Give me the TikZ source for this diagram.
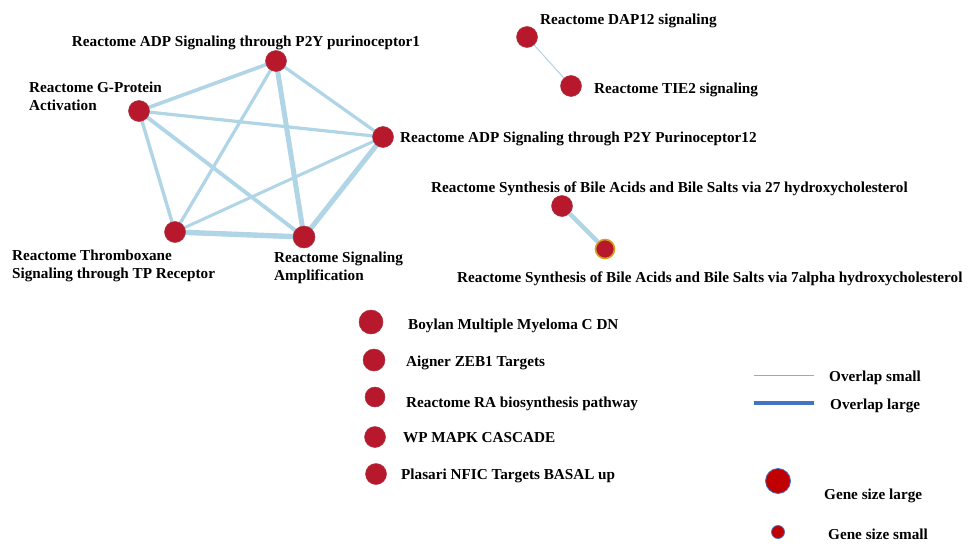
\documentclass[tikz,border=0pt]{standalone}
\usepackage{fontspec}
\setmainfont{Liberation Serif}
\definecolor{nodered}{RGB}{184,24,44}
\definecolor{edgeblue}{RGB}{176,213,230}
\definecolor{legthin}{RGB}{142,169,219}
\definecolor{legthick}{RGB}{68,114,196}
\definecolor{legred}{RGB}{192,0,0}
\definecolor{ringgold}{RGB}{214,160,30}
\tikzset{
  gene/.style={circle, fill=nodered, draw=nodered!70!gray, line width=0.5pt, minimum size=21pt, inner sep=0pt},
  lbl/.style={font=\bfseries\fontsize{15.2}{18}\selectfont, inner sep=0pt, text=black},
  lblL/.style={lbl, anchor=base west, align=left},
  ov/.style={draw=edgeblue, line width=#1},
  legdot/.style={circle, fill=legred, draw=legthick, line width=0.8pt, inner sep=0pt},
}
\begin{document}
\begin{tikzpicture}[x=1pt,y=-1pt]
\useasboundingbox (0,0) rectangle (973,543);
\fill[white] (0,0) rectangle (973,543);

% five-node cluster
\coordinate (p1c) at (276,61);
\coordinate (gpc) at (139,111);
\coordinate (p12c) at (383,137);
\coordinate (txc) at (175,232);
\coordinate (amc) at (304,237);

\draw[ov=3.6pt] (gpc) -- (p1c);
\draw[ov=3.2pt] (gpc) -- (p12c);
\draw[ov=3.4pt] (gpc) -- (txc);
\draw[ov=3.8pt] (gpc) -- (amc);
\draw[ov=3.2pt] (p1c) -- (p12c);
\draw[ov=3.2pt] (p1c) -- (txc);
\draw[ov=5pt] (p1c) -- (amc);
\draw[ov=3pt] (p12c) -- (txc);
\draw[ov=5pt] (p12c) -- (amc);
\draw[ov=5.4pt] (txc) -- (amc);

\node[gene] (p1) at (p1c) {};
\node[gene] (gp) at (gpc) {};
\node[gene] (p12) at (p12c) {};
\node[gene] (tx) at (txc) {};
\node[gene, minimum size=22pt] (am) at (amc) {};

\node[lbl, anchor=base] (p1t) at (246,47) {Reactome ADP Signaling through P2Y purinoceptor1};
\node[lblL] (gpt) at (29,110) {Reactome G-Protein\\Activation};
\node[lblL] (p12t) at (400,142) {Reactome ADP Signaling through P2Y Purinoceptor12};
\node[lblL] (txt) at (12,278) {Reactome Thromboxane\\Signaling through TP Receptor};
\node[lblL] (amt) at (274,280) {Reactome Signaling\\Amplification};

% DAP12 / TIE2 pair
\node[gene] (dap) at (527,37) {};
\node[gene] (tie) at (571,86) {};
\draw[draw=edgeblue, line width=1pt] (dap) -- (tie);
\node[lblL] (dapt) at (540,25) {Reactome DAP12 signaling};
\node[lblL] (tiet) at (594,93) {Reactome TIE2 signaling};

% bile acid pair
\node[gene] (b27) at (562,206) {};
\node[gene, draw=ringgold, line width=1.6pt, minimum size=19pt] (b7) at (605,249) {};
\draw[ov=4.4pt] (b27) -- (b7);
\node[lblL] (b27t) at (431,192) {Reactome Synthesis of Bile Acids and Bile Salts via 27 hydroxycholesterol};
\node[lblL] (b7t) at (457,282) {Reactome Synthesis of Bile Acids and Bile Salts via 7alpha hydroxycholesterol};

% unconnected gene sets
\node[gene, minimum size=24pt] (boy) at (371,322) {};
\node[gene, minimum size=22pt] (aig) at (374,360) {};
\node[gene, minimum size=20pt] (ra) at (375,397) {};
\node[gene, minimum size=21pt] (wp) at (375,437) {};
\node[gene, minimum size=21pt] (pla) at (376,474) {};
\node[lblL] (boyt) at (408,329) {Boylan Multiple Myeloma C DN};
\node[lblL] (aigt) at (406,366) {Aigner ZEB1 Targets};
\node[lblL] (rat) at (406,407) {Reactome RA biosynthesis pathway};
\node[lblL] (wpt) at (403,442) {WP MAPK CASCADE};
\node[lblL] (plat) at (401,479) {Plasari NFIC Targets BASAL up};

% legend
\coordinate (ls1) at (754,375);
\coordinate (ls2) at (814,375);
\coordinate (ll1) at (754,403);
\coordinate (ll2) at (814,403);
\draw[draw=legthin, line width=0.8pt] (ls1) -- (ls2);
\draw[draw=legthick, line width=3.2pt] (ll1) -- (ll2);
\node[lblL] (lst) at (829,381) {Overlap small};
\node[lblL] (llt) at (830,409) {Overlap large};
\node[legdot, minimum size=25pt] (gl) at (778,481) {};
\node[legdot, minimum size=13pt] (gs) at (778,532) {};
\node[lblL] (glt) at (824,499) {Gene size large};
\node[lblL] (gst) at (828,539) {Gene size small};
\end{tikzpicture}
\end{document}
